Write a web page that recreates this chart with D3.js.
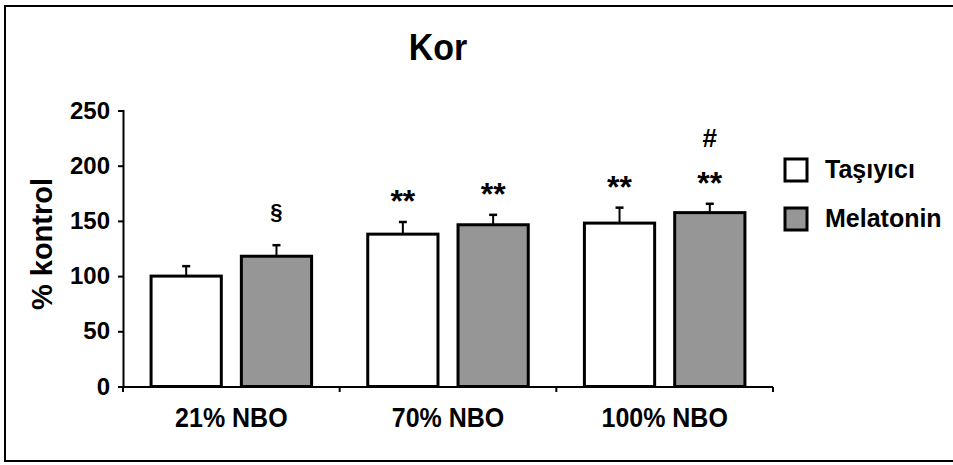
<!DOCTYPE html>
<html>
<head>
<meta charset="utf-8">
<script src="https://cdn.jsdelivr.net/npm/d3@7"></script>
<style>
  html, body { margin: 0; padding: 0; background: #fff; }
  svg { display: block; }
  text { font-family: "Liberation Sans", Arial, sans-serif; font-weight: bold; fill: #000; }
</style>
</head>
<body>
<svg id="chart" width="953" height="465"></svg>
<script>
// ---- data ----
const categories = ["21% NBO", "70% NBO", "100% NBO"];
const seriesNames = ["Taşıyıcı", "Melatonin"];
const tasiyiciValues = [100, 138, 148];
const tasiyiciErrors = [9, 11, 14];
const melatoninValues = [118, 146.5, 157.5];
const melatoninErrors = [10, 9, 8];
const tasiyiciMarks = ["", "**", "**"];
const melatoninMarks = ["§", "**", "**"];
const melatoninTopMarks = ["", "", "#"];
const yTicks = [0, 50, 100, 150, 200, 250];
const seriesColors = ["#ffffff", "#969696"];

const rows = [];
categories.forEach((c, i) => {
  rows.push({cat: c, series: seriesNames[0], value: tasiyiciValues[i], err: tasiyiciErrors[i], mark: tasiyiciMarks[i], top: ""});
  rows.push({cat: c, series: seriesNames[1], value: melatoninValues[i], err: melatoninErrors[i], mark: melatoninMarks[i], top: melatoninTopMarks[i]});
});

const svg = d3.select("#chart");

// frame
svg.append("rect")
  .attr("x", 5).attr("y", 6).attr("width", 970).attr("height", 455)
  .attr("fill", "none").attr("stroke", "#000").attr("stroke-width", 2);

const x = d3.scaleBand().domain(categories).range([123, 773]).paddingInner(0).paddingOuter(0);
const xs = d3.scaleBand().domain(seriesNames).range([0, x.bandwidth()]).paddingInner(0.222).paddingOuter(0.311);
const y = d3.scaleLinear().domain([0, 250]).range([386.5, 110.5]);
const color = d3.scaleOrdinal().domain(seriesNames).range(seriesColors);

// title
svg.append("text").attr("transform", "translate(438,60) scale(1,1.08)").attr("text-anchor", "middle")
  .style("font-size", "34px").text("Kor");

// y axis
const yAxis = svg.append("g").attr("transform", "translate(123,0)")
  .call(d3.axisLeft(y).tickValues(yTicks).tickSize(5).tickPadding(8).tickFormat(d3.format("d")));
yAxis.select(".domain").attr("stroke", "#000").attr("stroke-width", 2);
yAxis.selectAll(".tick line").attr("stroke", "#000").attr("stroke-width", 2);
yAxis.selectAll(".tick text").style("font-size", "24px").style("font-family", "Liberation Sans, Arial, sans-serif").style("font-weight", "bold");

// y title
svg.append("text").attr("transform", "translate(52,244) rotate(-90)")
  .attr("text-anchor", "middle").style("font-size", "29px").text("% kontrol");

// bars
const g = svg.append("g");
g.selectAll("rect.bar").data(rows).join("rect").attr("class", "bar")
  .attr("x", d => x(d.cat) + xs(d.series))
  .attr("width", xs.bandwidth())
  .attr("y", d => y(d.value))
  .attr("height", d => y(0) - y(d.value))
  .attr("fill", d => color(d.series))
  .attr("stroke", "#000").attr("stroke-width", 3);

// error bars
const cx = d => x(d.cat) + xs(d.series) + xs.bandwidth() / 2;
g.selectAll("line.err").data(rows).join("line").attr("class", "err")
  .attr("x1", cx).attr("x2", cx)
  .attr("y1", d => y(d.value)).attr("y2", d => y(d.value + d.err))
  .attr("stroke", "#000").attr("stroke-width", 2);
g.selectAll("line.cap").data(rows).join("line").attr("class", "cap")
  .attr("x1", d => cx(d) - 4).attr("x2", d => cx(d) + 4)
  .attr("y1", d => y(d.value + d.err)).attr("y2", d => y(d.value + d.err))
  .attr("stroke", "#000").attr("stroke-width", 2.5);

// annotations
g.selectAll("text.mark").data(rows.filter(d => d.mark)).join("text").attr("class", "mark")
  .attr("x", cx).attr("text-anchor", "middle")
  .attr("y", d => y(d.value + d.err) - (d.mark === "**" ? 10 : 26))
  .style("font-size", d => d.mark === "**" ? "32px" : "22px")
  .text(d => d.mark);
g.selectAll("text.top").data(rows.filter(d => d.top)).join("text").attr("class", "top")
  .attr("x", cx).attr("text-anchor", "middle")
  .attr("y", d => y(d.value + d.err) - 57)
  .style("font-size", "26px")
  .text(d => d.top);

// x axis
const xAxisG = svg.append("g").attr("transform", "translate(0,387)");
xAxisG.append("line").attr("x1", 123).attr("x2", 773).attr("stroke", "#000").attr("stroke-width", 2);
const bounds = categories.map(c => x(c)).concat([x(categories[categories.length - 1]) + x.bandwidth()]);
xAxisG.selectAll("line.bt").data(bounds).join("line").attr("class", "bt")
  .attr("x1", d => d).attr("x2", d => d).attr("y1", 0).attr("y2", 5)
  .attr("stroke", "#000").attr("stroke-width", 2);
const xAxis = svg.append("g").attr("transform", "translate(0,387)")
  .call(d3.axisBottom(x).tickSize(0).tickPadding(0));
xAxis.select(".domain").remove();
xAxis.selectAll(".tick text").attr("y", 0).attr("dy", 0)
  .attr("transform", "translate(0,40) scale(1,1.1)")
  .style("font-size", "25px").style("font-family", "Liberation Sans, Arial, sans-serif").style("font-weight", "bold");

// legend
const leg = svg.append("g");
const legY = d3.scalePoint().domain(seriesNames).range([170, 219]);
leg.selectAll("rect").data(seriesNames).join("rect")
  .attr("x", 785).attr("y", d => legY(d) - 11).attr("width", 22).attr("height", 22)
  .attr("fill", d => color(d)).attr("stroke", "#000").attr("stroke-width", 3);
leg.selectAll("text").data(seriesNames).join("text")
  .attr("transform", d => `translate(825,${legY(d) + 8}) scale(1,1.06)`)
  .style("font-size", "25px").text(d => d);
</script>
</body>
</html>
